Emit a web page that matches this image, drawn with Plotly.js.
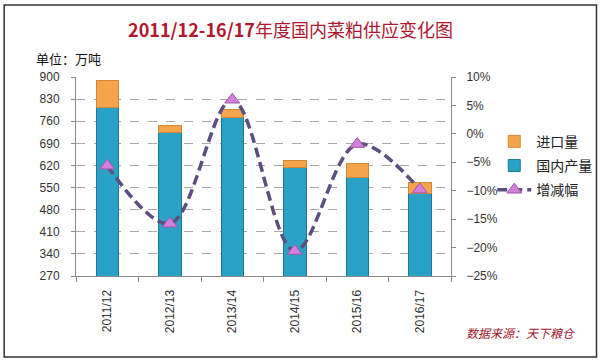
<!DOCTYPE html>
<html>
<head>
<meta charset="utf-8">
<script src="https://cdn.plot.ly/plotly-3.0.1.min.js"></script>
<style>
html,body{margin:0;padding:0;background:#fff;}
#chart{width:609px;height:362px;}
</style>
</head>
<body>
<div id="chart"></div>
<script>
// Data
var seasons = ['2011/12', '2012/13', '2013/14', '2014/15', '2015/16', '2016/17'];
var domestic = [805, 723, 772, 615, 582, 532];   // 国内产量 (万吨)
var imports = [85, 25, 26, 20, 43, 33];          // 进口量 (万吨)
var changePct = [-5.6, -15.8, 6.0, -20.6, -1.8, -9.8]; // 增减幅 (%)
var leftTicks = [270, 340, 410, 480, 550, 620, 690, 760, 830, 900];

var fontFam = '"Liberation Sans", Arial, "Noto Sans CJK SC", sans-serif';
var cjkFam = '"Noto Sans CJK SC", "Liberation Sans", sans-serif';

var traces = [
  {
    type: 'bar', name: '国内产量', x: seasons, y: domestic,
    marker: {color: '#2AA2C6', line: {color: '#1C7896', width: 1}},
    legendrank: 2, legendgroup: 'b', hoverinfo: 'x+y'
  },
  {
    type: 'bar', name: '进口量', x: seasons, y: imports,
    marker: {color: '#F4A54C', line: {color: '#D1873A', width: 1}},
    legendrank: 1, legendgroup: 'a', hoverinfo: 'x+y'
  },
  {
    type: 'scatter', mode: 'lines+markers', name: '增减幅', x: seasons, y: changePct,
    yaxis: 'y2',
    line: {color: '#5C4F80', width: 3.5, dash: '10px,5px', shape: 'spline', smoothing: 1},
    marker: {symbol: 'triangle-up', size: 13, color: '#D57FDC', line: {color: '#9B59A8', width: 1}},
    legendrank: 3, legendgroup: 'c'
  }
];

var layout = {
  width: 609, height: 362,
  margin: {l: 76, r: 152, t: 77, b: 86},
  paper_bgcolor: '#ffffff', plot_bgcolor: '#ffffff',
  barmode: 'stack', bargap: 0.64,
  showlegend: true,
  font: {family: fontFam, size: 12, color: '#333'},
  title: {
    text: '<b>2011/12-16/17</b>年度国内菜粕供应变化图',
    font: {family: cjkFam, size: 18, color: '#B0182F'},
    xref: 'container', yref: 'container', x: 0.477, xanchor: 'center', y: 0.914, yanchor: 'middle'
  },
  xaxis: {
    type: 'category',
    tickangle: -90,
    showline: true, linecolor: '#8a8a8a', linewidth: 1,
    ticks: 'outside', tickson: 'boundaries', ticklen: 5, tickcolor: '#8a8a8a',
    ticklabelstandoff: 8,
    tickfont: {family: fontFam, size: 12, color: '#333'},
    showgrid: false, fixedrange: true
  },
  yaxis: {
    range: [270, 900], tickvals: leftTicks, ticktext: leftTicks.map(String),
    showline: true, linecolor: '#8a8a8a', linewidth: 1,
    ticks: 'outside', ticklen: 4, tickcolor: '#8a8a8a',
    ticklabelstandoff: 9,
    showgrid: true, gridcolor: '#a8a8a8', griddash: 'dash', gridwidth: 1,
    zeroline: false,
    tickfont: {family: fontFam, size: 12, color: '#333'}
  },
  yaxis2: {
    overlaying: 'y', side: 'right',
    range: [-25, 10], dtick: 5, tick0: 0, ticksuffix: '%',
    showline: true, linecolor: '#8a8a8a', linewidth: 1,
    ticks: 'outside', ticklen: 4, tickcolor: '#8a8a8a',
    ticklabelstandoff: 8,
    showgrid: false, zeroline: false,
    tickfont: {family: fontFam, size: 12, color: '#333'}
  },
  legend: {
    x: 1.11, xanchor: 'left', y: 0.755, yanchor: 'top',
    font: {family: cjkFam, size: 14, color: '#222'},
    bgcolor: 'rgba(0,0,0,0)', tracegroupgap: 3, itemwidth: 34
  },
  annotations: [
    {
      text: '单位：万吨', xref: 'paper', yref: 'paper',
      x: -0.113, y: 1.095, xanchor: 'left', yanchor: 'middle', showarrow: false,
      font: {family: cjkFam, size: 13, color: '#111'}
    },
    {
      text: '<i>数据来源：天下粮仓</i>', xref: 'paper', yref: 'paper',
      x: 1.034, y: -0.286, xanchor: 'left', yanchor: 'middle', showarrow: false,
      font: {family: cjkFam, size: 12, color: '#A0142A'}
    }
  ],
  shapes: [
    {
      type: 'rect', xref: 'paper', yref: 'paper', layer: 'below',
      x0: -0.1916, x1: 1.388, y0: -0.407, y1: 1.362,
      line: {color: '#333', width: 1.5}, fillcolor: 'rgba(0,0,0,0)'
    }
  ]
};

Plotly.newPlot('chart', traces, layout, {displayModeBar: false, staticPlot: true});
</script>
</body>
</html>
